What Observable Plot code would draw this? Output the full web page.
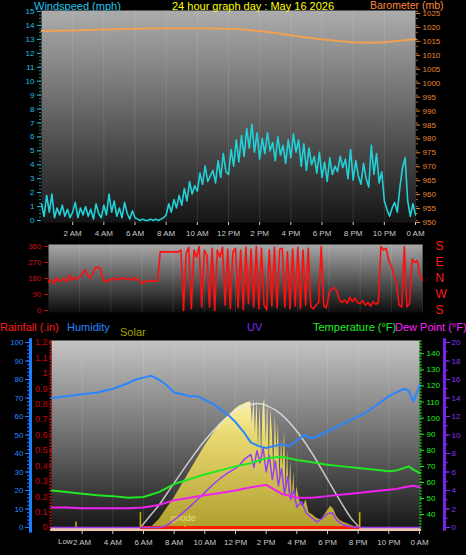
<!DOCTYPE html>
<html><head><meta charset="utf-8">
<script src="https://cdn.jsdelivr.net/npm/d3@7"></script>
<script src="https://cdn.jsdelivr.net/npm/@observablehq/plot@0.6"></script>
<style>
html,body{margin:0;padding:0;background:#000;}
#wrap{position:relative;width:466px;height:555px;overflow:hidden;background:#000;font-family:"Liberation Sans",Arial,sans-serif;}
.lbl{position:absolute;font-size:11px;line-height:12px;white-space:nowrap;}
.plot{position:absolute;left:0;}
</style></head>
<body><div id="wrap">
<div id="p1" class="plot" style="top:0px"></div>
<div id="p2" class="plot" style="top:240px"></div>
<div id="p3" class="plot" style="top:315px"></div>
<div class="lbl" style="left:34px;top:0px;color:#22c4ee">Windspeed (mph)</div>
<div class="lbl" style="left:172px;top:0px;color:#ffff00">24 hour graph day : May 16 2026</div>
<div class="lbl" style="left:370px;top:0px;color:#ff8a3a;font-size:10.5px;line-height:11px">Barometer (mb)</div>
<div class="lbl" style="left:0px;top:321px;color:#ff1a1a">Rainfall (.in)</div>
<div class="lbl" style="left:67px;top:321px;color:#2a86ff">Humidity</div>
<div class="lbl" style="left:120px;top:326px;color:#a8a000">Solar</div>
<div class="lbl" style="left:247px;top:321px;color:#7a2cf0">UV</div>
<div class="lbl" style="left:313px;top:321px;color:#22ee22">Temperature (°F)</div>
<div class="lbl" style="left:395px;top:321px;color:#ff22ff">Dew Point (°F)</div>
</div>
<script>
// ---------------- DATA ----------------
const hourTicks = [2,4,6,8,10,12,14,16,18,20,22,24];
const windStepMin = 10;
const windSpeed = [
 1.2,0.3,1.8,0.6,1.9,0.2, 0.9,0.4,1.1,0.3,0.8,0.2, 0.6,1.3,0.2,0.9,0.4,1.0, 0.3,0.8,0.1,1.2,0.5,0.2,
 1.1,0.4,1.9,0.6,1.4,0.3, 0.9,0.2,1.3,0.5,0.1,0.7, 0.2,0.1,0.0,0.1,0.0,0.0, 0.1,0.0,0.1,0.0,0.1,0.2,
 0.4,1.2,0.6,1.5,0.9,1.8, 1.1,2.3,1.4,2.8,1.9,2.5, 2.1,3.4,2.6,3.9,2.8,3.2, 3.6,2.7,4.3,3.1,4.8,3.5,
 3.3,5.1,3.9,5.8,4.2,6.1, 4.6,6.6,5.2,6.9,4.9,6.3, 4.4,5.9,4.8,6.3,5.0,5.6, 4.3,6.0,4.7,5.4,4.1,5.8,
 4.5,6.2,4.9,5.8,3.9,5.5, 3.6,5.2,4.0,4.6,3.4,4.9, 3.1,4.2,2.8,4.5,3.3,3.9, 3.5,4.6,3.8,4.4,3.0,5.1,
 2.9,4.3,3.2,2.6,4.1,3.0, 2.4,5.4,3.3,4.8,2.7,3.5, 1.4,0.8,0.3,0.9,1.3,0.6, 2.4,3.8,4.5,1.4,0.3,1.2, 0.4];
const baroHours  = [0,2,4,6,8,10,12,13,14,15,16,17,18,19,20,21,22,23,24];
const baroValues = [1018,1018.2,1018.5,1018.8,1019,1019,1018.8,1018.5,1018,1017.3,1016.5,1015.7,1015,1014.4,1014,1013.8,1014,1014.5,1015];
const dirStepMin = 10;
const windDir = [
 160,175,150,185,165,170, 180,160,200,170,185,175, 190,205,230,200,185,205, 240,245,235,175,160,170,
 175,185,170,180,175,185, 175,180,170,185,175,170, 150,165,160,170,165,165, 165,330,330,330,330,330,
 330,330,330,340,0,320, 355,10,340,300,360,20, 340,310,20,350,0,340, 300,355,30,345,10,330,
 350,15,340,5,355,40, 345,20,360,10,350,30, 5,340,25,355,15,345, 350,20,330,10,345,25,
 355,10,340,30,350,20, 10,30,45,360,25,15, 100,120,130,110,60,45, 60,40,75,50,70,45,
 40,55,30,45,25,50, 35,45,360,340,350,280, 250,200,150,30,20,360, 20,40,290,270,280,200, 170];
const dirTicks = [0,90,180,270,360];
const dirLetters = ["S","W","N","E","S"];

const humHours = [0,1,2,3,4,5,5.5,6,6.5,7,7.5,8,8.5,9,9.5,10,10.5,11,11.5,12,12.5,13,13.5,14,14.5,15,15.5,16,16.5,17,17.5,18,18.5,19,19.5,20,20.5,21,21.5,22,22.5,23,23.3,23.6,24];
const humidity = [70,71,72,73,75,78,80,81,82,80,77,73,72,71,71,69,67,64,61,57,52,46,44,43,44,45,44,47,50,48,50,52,54,56,58,60,62,65,68,71,73,75,74,68,77];
const tempHours = [0,1,2,3,4,5,6,7,8,9,10,11,12,13,14,15,16,17,18,19,20,21,22,22.5,23,23.3,23.6,24];
const temperature = [55,54,53,52,51.5,50.5,51,54,59,62,65,67.5,70,72,75,76,74,72.5,71,70,69,68,67,67.5,69,70,68,66];
const dewPoint = [44.5,44.5,44,44,44,44,44.5,46,49,50.5,52,53.5,55,57,58.5,53,50.5,50.5,51.5,52.5,53.5,54.5,55.5,56,57,57.5,58,57];
const uvHours = [0,7,7.5,8,8.5,9,9.5,10,10.5,11,11.5,12,12.3,12.6,13,13.2,13.4,13.6,13.8,14,14.2,14.4,14.6,14.8,15,15.2,15.4,15.6,15.8,16,16.3,16.6,17,17.3,17.6,18,18.3,18.6,19,19.5,20,24];
const uvIndex = [0,0,0.2,0.8,1.5,2.2,3.0,3.8,4.6,5.3,5.9,6.4,6.8,7.4,7.9,6.5,8.3,7.0,8.6,6.0,7.8,5.2,7.2,4.5,6.4,3.6,5.5,3.0,4.0,2.2,2.8,1.6,1.0,0.6,0.9,1.5,1.6,0.8,0.3,0.1,0,0];
const solarHours = [0,6.5,7,7.5,8,8.5,9,9.5,10,10.5,11,11.5,12,12.25,12.5,12.75,13,13.1,13.2,13.3,13.4,13.5,13.6,13.7,13.8,13.9,14,14.1,14.2,14.3,14.4,14.5,14.6,14.7,14.8,14.9,15,15.1,15.2,15.3,15.4,15.5,15.6,15.7,15.8,15.9,16,16.2,16.4,16.6,16.8,17,17.3,17.6,18,18.2,18.4,18.6,18.8,19,19.3,19.6,20,24];
const solar = [0,0,40,100,160,230,300,370,440,500,560,600,640,655,665,675,680,560,700,500,690,430,660,380,640,700,460,680,330,640,520,300,610,400,560,240,480,320,520,200,420,170,360,150,300,130,220,140,110,150,80,70,50,40,90,115,100,60,40,30,20,10,0,0];
const solarMaxHours = [5.8,6.5,7,7.5,8,9,10,11,12,13,13.5,14,15,16,17,18,19,19.5,20.1];
const solarMax = [0,70,120,180,240,360,470,560,630,665,670,660,610,520,400,260,120,55,0];
const rainTicks = [0,0.1,0.2,0.3,0.4,0.5,0.6,0.7,0.8,0.9,1,1.1,1.2];
const rainHours = [0,24];
const rainfall = [0,0];
const daylight = [5.8,20.1];
const sunMarks = [5.8,20.1];
const moonMarks = [1.6,8.7];
const tempTicks = [40,50,60,70,80,90,100,110,120,130,140];
const uvTicks = [0,2,4,6,8,10,12,14,16,18,20];

// ---------------- HELPERS ----------------
const FONT = "'Liberation Sans', Arial, sans-serif";
const hourLabel = h => { const m = h % 24; return m === 0 ? "0 AM" : m < 12 ? m + " AM" : m === 12 ? "12 PM" : (m - 12) + " PM"; };
function addGradient(svg, id, stops) {
  const defs = d3.select(svg).insert("defs", ":first-child");
  const g = defs.append("linearGradient").attr("id", id).attr("x1", 0).attr("x2", 0).attr("y1", 0).attr("y2", 1);
  stops.forEach(([o, c]) => g.append("stop").attr("offset", o).attr("stop-color", c));
}
const range = (a, b, s) => d3.range(a, b + s / 2, s);
const ax = (o) => Plot.axisY({label: null, ...o});

// ---------------- TOP: wind speed + barometer ----------------
const windData = windSpeed.map((v, i) => ({t: i * windStepMin / 60, v}));
const baroData = baroHours.map((t, i) => ({t, v: (baroValues[i] - 950) / 5}));
const p1 = Plot.plot({
  width: 466, height: 242,
  marginLeft: 41, marginRight: 51, marginTop: 10, marginBottom: 20,
  x: {domain: [0, 24], label: null},
  y: {domain: [0, 15], insetTop: 1, insetBottom: 2, label: null},
  style: {background: "transparent", fontFamily: FONT, fontSize: "8px", overflow: "visible"},
  marks: [
    Plot.frame({fill: "url(#gTop)"}),
    Plot.ruleX(hourTicks, {stroke: "#fff", strokeOpacity: 0.1}),
    ax({ticks: range(0, 15, 0.25), tickFormat: () => "", tickSize: 2, color: "#128c8c"}),
    ax({ticks: range(0, 15, 1), tickFormat: d => String(d), tickSize: 4, tickPadding: 3, color: "#18c0e8", fontSize: 8}),
    ax({anchor: "right", ticks: range(0, 15, 0.5), tickFormat: () => "", tickSize: 2, color: "#b06020"}),
    ax({anchor: "right", ticks: range(0, 15, 1), tickFormat: d => String(950 + d * 5), tickSize: 4, tickPadding: 3, dy: 2, color: "#e8862e", fontSize: 8}),
    Plot.axisX({label: null, ticks: hourTicks, tickFormat: hourLabel, tickSize: 3, tickPadding: 5, color: "#c8c8c8", fontSize: 8}),
    Plot.lineY(baroData, {x: "t", y: "v", stroke: "#f0a050", strokeWidth: 2}),
    Plot.lineY(windData, {x: "t", y: "v", stroke: "#22d0d8", strokeWidth: 1.6})
  ]
});
addGradient(p1, "gTop", [[0, "#acacac"], [0.45, "#6a6a6a"], [1, "#151515"]]);
document.getElementById("p1").appendChild(p1);

// ---------------- MIDDLE: wind direction ----------------
const dirData = windDir.map((v, i) => ({t: i * dirStepMin / 60, v}));
const p2 = Plot.plot({
  width: 466, height: 80,
  marginLeft: 48, marginRight: 44, marginTop: 4, marginBottom: 8,
  x: {domain: [0, 24], label: null, axis: null},
  y: {domain: [0, 360], insetTop: 2, insetBottom: 2, label: null},
  style: {background: "transparent", fontFamily: FONT, fontSize: "8px", overflow: "visible"},
  marks: [
    Plot.frame({fill: "url(#gMid)"}),
    Plot.ruleX(hourTicks, {stroke: "#fff", strokeOpacity: 0.1}),
    ax({ticks: dirTicks, tickFormat: d => String(d), tickSize: 4, tickPadding: 3, color: "#d01010", fontSize: 8}),
    ax({anchor: "right", ticks: dirTicks, tickFormat: d => dirLetters[dirTicks.indexOf(d)], tickSize: 0, tickPadding: 13, color: "#ff1a1a", fontSize: 12}),
    Plot.lineY(dirData, {x: "t", y: "v", stroke: "#ff1010", strokeWidth: 1.6})
  ]
});
addGradient(p2, "gMid", [[0, "#a8a8a8"], [0.5, "#5a5a5a"], [1, "#0c0c0c"]]);
document.getElementById("p2").appendChild(p2);

// ---------------- BOTTOM ----------------
const tY = t => (t - 32) / 115 * 100;   // temperature -> panel units
const rY = r => r / 1.2 * 100;           // rainfall -> panel units
const uY = u => u * 5;                   // UV -> panel units
const sY = s => s / 10;                  // solar -> panel units
const humData = humHours.map((t, i) => ({t, v: humidity[i]}));
const tempData = tempHours.map((t, i) => ({t, v: tY(temperature[i])}));
const dewData = tempHours.map((t, i) => ({t, v: tY(dewPoint[i])}));
const uvData = uvHours.map((t, i) => ({t, v: uY(uvIndex[i])}));
const solarData = solarHours.map((t, i) => ({t, v: sY(solar[i])}));
const solarMaxData = solarMaxHours.map((t, i) => ({t, v: sY(solarMax[i])}));
const rainData = rainHours.map((t, i) => ({t, v: rY(rainfall[i])}));
const p3 = Plot.plot({
  width: 466, height: 240,
  marginLeft: 51, marginRight: 47, marginTop: 25, marginBottom: 24,
  x: {domain: [0, 24], label: null},
  y: {domain: [0, 100], insetTop: 2, insetBottom: 4, label: null},
  style: {background: "transparent", fontFamily: FONT, fontSize: "8px", overflow: "visible"},
  marks: [
    Plot.frame({fill: "url(#gBot)"}),
    Plot.ruleX(hourTicks, {stroke: "#fff", strokeOpacity: 0.1}),
    // humidity axis (left, outer)
    Plot.ruleX([0], {y1: -3, y2: 102, dx: -21, stroke: "#1e7cff", strokeWidth: 3}),
    ax({ticks: range(0, 100, 2), tickFormat: () => "", tickSize: 2, dx: -22, color: "#1e7cff"}),
    ax({ticks: range(0, 100, 10), tickFormat: d => String(d), tickSize: 4, tickPadding: 2, dx: -22, color: "#2a86ff", fontSize: 8}),
    // rainfall axis (left, inner)
    Plot.ruleX([0], {y1: -2, y2: 101, dx: -1, stroke: "#e01010", strokeWidth: 2, strokeDasharray: "1.5,1.5"}),
    ax({ticks: rainTicks.map(rY), tickFormat: d => d3.format("~g")(+(d * 1.2 / 100).toFixed(1)), tickSize: 2, tickPadding: 2, color: "#d00000", fontSize: 9}),
    // temperature axis (right, inner)
    Plot.ruleX([24], {y1: -2, y2: 101, dx: 1, stroke: "#20d020", strokeWidth: 2, strokeDasharray: "1.5,1.5"}),
    ax({anchor: "right", ticks: tempTicks.map(tY), tickFormat: d => String(Math.round(d * 1.15 + 32)), tickSize: 4, tickPadding: 3, color: "#22ee22", fontSize: 8}),
    // UV axis (right, outer)
    Plot.ruleX([24], {y1: -2, y2: 102, dx: 25, stroke: "#7a22ee", strokeWidth: 3}),
    ax({anchor: "right", ticks: range(0, 20, 1).map(uY), tickFormat: () => "", tickSize: 2, dx: 26, color: "#7a22ee"}),
    ax({anchor: "right", ticks: uvTicks.map(uY), tickFormat: d => String(Math.round(d / 5)), tickSize: 4, tickPadding: 2, dx: 26, color: "#8a30ff", fontSize: 8}),
    // x axis
    Plot.axisX({label: null, ticks: hourTicks, tickFormat: hourLabel, tickSize: 3, tickPadding: 5, color: "#c8c8c8", fontSize: 8}),
    // solar
    Plot.areaY(solarData, {x: "t", y: "v", fill: "url(#gSolar)", curve: "linear"}),
    Plot.lineY(solarMaxData, {x: "t", y: "v", stroke: "#e8e8e8", strokeWidth: 1.5, strokeOpacity: 0.8, curve: "monotone-x"}),
    // rain & daylight baseline
    Plot.lineY(rainData, {x: "t", y: "v", dy: 2, stroke: "#f0c4a8", strokeWidth: 3}),
    Plot.ruleY([0], {x1: daylight[0], x2: daylight[1], stroke: "#ff2000", strokeWidth: 3}),
    Plot.ruleX(sunMarks, {y1: 0, y2: 8, stroke: "#c8b400", strokeWidth: 1.5}),
    Plot.ruleX(moonMarks, {y1: 0, y2: 3, stroke: "#c8b400", strokeWidth: 1.5}),
    Plot.text(["Low"], {x: [0.9], y: [0], dy: 14, fill: "#c8c8c8", fontSize: 8}),
    Plot.text(["gnode"], {x: [8.6], y: [5], fill: "#e8e070", fontSize: 9}),
    // lines
    Plot.lineY(uvData, {x: "t", y: "v", stroke: "#9a40f0", strokeWidth: 1.5}),
    Plot.lineY(dewData, {x: "t", y: "v", stroke: "#ee22ee", strokeWidth: 2}),
    Plot.lineY(tempData, {x: "t", y: "v", stroke: "#22e822", strokeWidth: 2}),
    Plot.lineY(humData, {x: "t", y: "v", stroke: "#2a86ff", strokeWidth: 2})
  ]
});
addGradient(p3, "gBot", [[0, "#c4c4c4"], [0.5, "#707070"], [1, "#141414"]]);
addGradient(p3, "gSolar", [[0, "#fff6b0"], [0.3, "#e8d870"], [1, "#b0a030"]]);
document.getElementById("p3").appendChild(p3);
</script>
</body></html>
